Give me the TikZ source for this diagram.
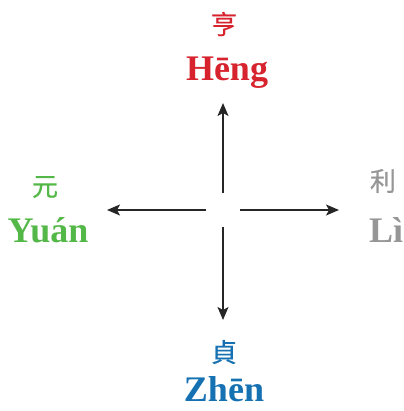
\documentclass[tikz,border=0pt]{standalone}
\usepackage{fontspec}
\setmainfont{Liberation Serif}
\newfontfamily\cjk[FakeBold=0.6]{Noto Sans CJK SC}
\usetikzlibrary{arrows.meta}
\definecolor{hred}{RGB}{214,35,45}
\definecolor{ygreen}{RGB}{84,184,72}
\definecolor{lgray}{RGB}{150,150,150}
\definecolor{zblue}{RGB}{22,113,178}
\begin{document}
\begin{tikzpicture}[x=1pt,y=-1pt,
  hanzi/.style={font=\cjk\fontsize{26}{26}\selectfont, inner sep=0pt},
  pinyin/.style={font=\bfseries\fontsize{36}{36}\selectfont, inner sep=0pt, anchor=base, text depth=0pt},
  arr/.style={draw=black!85, line width=1.3pt, -{Stealth[length=13pt,width=11pt,inset=3pt]}}]
\useasboundingbox (0,0) rectangle (403,411);
% labels
\node[hanzi, text=hred] (c1) at (224,24) {亨};
\node[pinyin, text=hred] (p1) at (227,81) {Hēng};
\node[hanzi, text=ygreen] (c2) at (45,187) {元};
\node[pinyin, text=ygreen] (p2) at (48,242) {Yuán};
\node[hanzi, text=lgray] (c3) at (383,181) {利};
\node[pinyin, text=lgray] (p3) at (386,242) {Lì};
\node[hanzi, text=zblue] (c4) at (224,352) {貞};
\node[pinyin, text=zblue] (p4) at (224,401) {Zhēn};
% arrow ends
\coordinate (us) at (223,193); \coordinate (ue) at (223,103);
\coordinate (ds) at (223,227); \coordinate (de) at (223,320);
\coordinate (ls) at (206,210); \coordinate (le) at (107,210);
\coordinate (rs) at (240,210); \coordinate (re) at (339,210);
\draw[arr] (us) -- (ue);
\draw[arr] (ds) -- (de);
\draw[arr] (ls) -- (le);
\draw[arr] (rs) -- (re);
\end{tikzpicture}
\end{document}
